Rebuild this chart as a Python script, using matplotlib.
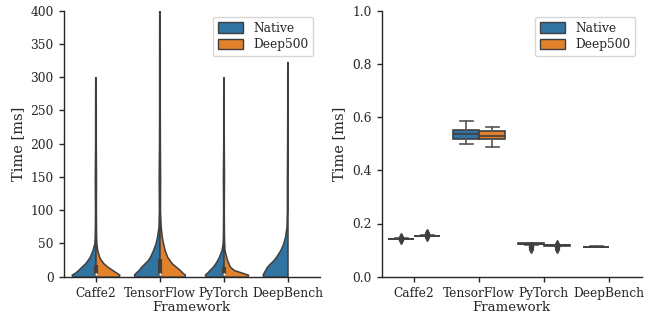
import numpy as np
import matplotlib
matplotlib.use("Agg")
import matplotlib.pyplot as plt
from matplotlib.patches import Patch

# ---------------- data ----------------
frameworks = ["Caffe2", "TensorFlow", "PyTorch", "DeepBench"]
series = ["Native", "Deep500"]

# Violin density profiles (relative density) on a shared time grid [ms]
time_grid = [0, 3, 6, 10, 15, 20, 25, 30, 40, 50, 60, 75, 100, 150, 200, 250, 300, 323, 400]
caffe2_native_density = [23, 24, 20.5, 17.5, 14, 10.5, 8, 5.7, 3, 1.2, 0.8, 0.6, 0.5, 0.7, 0.4, 0.4, 0.3]
caffe2_deep500_density = [23, 24, 21, 17, 12, 8.2, 5.5, 3.7, 1.7, 0.9, 0.6, 0.5, 0.4, 0.5, 0.3, 0.3, 0.2]
tf_native_density = [25, 25.7, 24, 21, 18.4, 15, 11.7, 9.5, 6.5, 4, 2.5, 1.0, 0.6, 0.8, 0.5, 0.4, 0.4, 0.4, 0.3]
tf_deep500_density = [25, 25.6, 23, 20.5, 16.5, 12.5, 10, 7.7, 5.2, 3.6, 2.3, 1.2, 0.5, 0.6, 0.4, 0.3, 0.3, 0.3, 0.2]
pytorch_native_density = [18, 18.7, 16.5, 14, 10.7, 8.3, 6.3, 4.6, 2, 0.9, 0.6, 0.5, 0.4, 0.6, 0.3, 0.3, 0.2]
pytorch_deep500_density = [24, 24.7, 18.7, 10.4, 6.5, 5, 3.6, 2.7, 1, 0.7, 0.5, 0.4, 0.3, 0.5, 0.3, 0.2, 0.2]
deepbench_native_density = [24, 25, 24, 22.5, 20.6, 17.5, 14, 11.5, 7.2, 4.3, 2.5, 1.0, 0.6, 0.6, 0.4, 0.3, 0.3, 0.2]

# inner box (q1, median, q3) of the combined violin, ms
violin_q1 = [3, 3, 3]
violin_median = [4, 4.5, 4]
violin_q3 = [18, 27, 15]

# Box plot stats (right panel), ms
native_q1 = [0.1425, 0.516, 0.1220, 0.1125]
native_med = [0.1430, 0.535, 0.1235, 0.1130]
native_q3 = [0.1435, 0.550, 0.1250, 0.1135]
native_whislo = [0.1415, 0.498, 0.1200, 0.1120]
native_whishi = [0.1450, 0.586, 0.1265, 0.1140]
native_fliers = [[0.137, 0.140, 0.147, 0.150], [], [0.106, 0.110, 0.113, 0.117], []]

deep500_q1 = [0.1530, 0.516, 0.1165]
deep500_med = [0.1535, 0.530, 0.1175]
deep500_q3 = [0.1545, 0.546, 0.1185]
deep500_whislo = [0.1520, 0.489, 0.1150]
deep500_whishi = [0.1560, 0.564, 0.1200]
deep500_fliers = [[0.150, 0.157, 0.160, 0.164], [], [0.106, 0.110, 0.113, 0.123]]

# ---------------- style ----------------
plt.rcParams.update({
    "font.family": "serif",
    "font.serif": ["DejaVu Serif"],
    "font.size": 9.6,
    "axes.labelsize": 9.6,
    "xtick.labelsize": 8.8,
    "ytick.labelsize": 8.8,
    "legend.fontsize": 8.8,
    "axes.linewidth": 1.0,
    "xtick.major.size": 3.6,
    "ytick.major.size": 3.6,
    "xtick.major.width": 1.0,
    "ytick.major.width": 1.0,
    "text.color": ".15",
    "axes.labelcolor": ".15",
    "xtick.color": ".15",
    "ytick.color": ".15",
    "axes.edgecolor": ".15",
})

BLUE = "#3274a1"
ORANGE = "#e1812c"
GRAY = "#3f3f3f"

W, H = 651, 318
fig = plt.figure(figsize=(W / 100, H / 100), dpi=100)
ax1 = fig.add_axes([63.5 / W, 41.3 / H, 256 / W, 266 / H])
ax2 = fig.add_axes([381.5 / W, 41.3 / H, 260 / W, 266 / H])

# ---------------- left: split violins ----------------
native_dens = [caffe2_native_density, tf_native_density, pytorch_native_density, deepbench_native_density]
deep_dens = [caffe2_deep500_density, tf_deep500_density, pytorch_deep500_density]
global_max = max(max(d) for d in native_dens + deep_dens)


def make_stats(dens):
    coords = np.array(time_grid[:len(dens)], dtype=float)
    vals = np.array(dens, dtype=float)
    return dict(coords=coords, vals=vals, mean=np.nan, median=np.nan,
                min=coords.min(), max=coords.max())


for dens_list, color, side in [(native_dens, BLUE, "low"), (deep_dens, ORANGE, "high")]:
    for i, dens in enumerate(dens_list):
        st = make_stats(dens)
        w = 0.8 * max(dens) / global_max
        parts = ax1.violin([st], positions=[i], widths=w, showextrema=False,
                           showmeans=False, showmedians=False, side=side)
        for b in parts["bodies"]:
            b.set_facecolor(color)
            b.set_edgecolor(GRAY)
            b.set_alpha(1)
            b.set_linewidth(1.1)
            b.set_zorder(2)

for i in range(len(violin_q1)):
    ax1.plot([i, i], [violin_q1[i], violin_q3[i]], color=GRAY, lw=3.0,
             solid_capstyle="butt", zorder=3)
    ax1.scatter([i], [violin_median[i]], s=3, color="white", zorder=4, linewidths=0)

ax1.set_xlim(-0.5, 3.5)
ax1.set_ylim(0, 400)
ax1.set_xticks(range(len(frameworks)))
ax1.set_xticklabels(frameworks)
ax1.set_yticks(np.arange(0, 401, 50))
ax1.set_xlabel("Framework", labelpad=1)
ax1.set_ylabel("Time [ms]", fontsize=10.5)

# ---------------- right: box plots ----------------
def bstats(q1, med, q3, lo, hi, fl):
    return [dict(q1=a, med=b, q3=c, whislo=d, whishi=e, fliers=f)
            for a, b, c, d, e, f in zip(q1, med, q3, lo, hi, fl)]


common = dict(patch_artist=True, widths=0.4, showfliers=True,
              medianprops=dict(color=GRAY, lw=1.2),
              whiskerprops=dict(color="#555555", lw=1.2),
              capprops=dict(color="#555555", lw=1.2),
              flierprops=dict(marker="d", markerfacecolor=GRAY, markeredgecolor=GRAY,
                              markersize=4, linestyle="none"))

nat = bstats(native_q1, native_med, native_q3, native_whislo, native_whishi, native_fliers)
bp1 = ax2.bxp(nat, positions=[i - 0.2 for i in range(len(nat))],
              boxprops=dict(facecolor=BLUE, edgecolor=GRAY, lw=1.2), **common)
dp = bstats(deep500_q1, deep500_med, deep500_q3, deep500_whislo, deep500_whishi, deep500_fliers)
bp2 = ax2.bxp(dp, positions=[i + 0.2 for i in range(len(dp))],
              boxprops=dict(facecolor=ORANGE, edgecolor=GRAY, lw=1.2), **common)

ax2.set_xlim(-0.5, 3.5)
ax2.set_ylim(0, 1.0)
ax2.set_xticks(range(len(frameworks)))
ax2.set_xticklabels(frameworks)
ax2.set_yticks(np.arange(0, 1.01, 0.2))
ax2.set_yticklabels([f"{v:.1f}" for v in np.arange(0, 1.01, 0.2)])
ax2.set_xlabel("Framework", labelpad=1)
ax2.set_ylabel("Time [ms]", fontsize=10.5)

for ax in (ax1, ax2):
    ax.spines["top"].set_visible(False)
    ax.spines["right"].set_visible(False)
    handles = [Patch(facecolor=BLUE, edgecolor=GRAY, lw=1.0),
               Patch(facecolor=ORANGE, edgecolor=GRAY, lw=1.0)]
    ax.legend(handles, series, loc="upper right", labelspacing=0.3,
              handlelength=2.1, handleheight=0.9, borderpad=0.4)

fig.savefig("out.png", dpi=100)
